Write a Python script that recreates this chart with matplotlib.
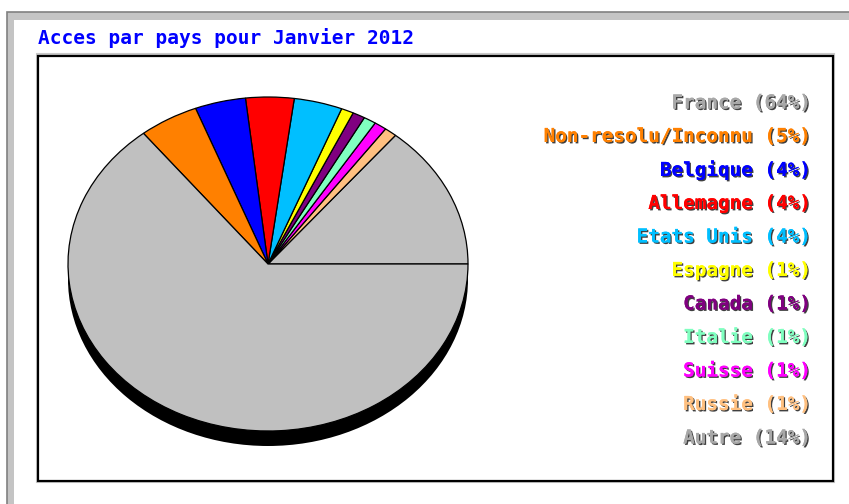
import matplotlib
matplotlib.use("Agg")
import matplotlib.pyplot as plt
import matplotlib.patheffects as pe
from matplotlib.patches import Rectangle, Ellipse

title = "Acces par pays pour Janvier 2012"
countries = ["France", "Non-resolu/Inconnu", "Belgique", "Allemagne", "Etats Unis",
             "Espagne", "Canada", "Italie", "Suisse", "Russie", "Autre"]
shares = [64.3, 4.8, 4.1, 3.9, 3.9, 1.0, 1.0, 1.0, 1.0, 1.0, 14.0]
label_pct = [64, 5, 4, 4, 4, 1, 1, 1, 1, 1, 14]
slice_colors = ["#C0C0C0", "#FF8000", "#0000FF", "#FF0000", "#00BFFF",
                "#FFFF00", "#800080", "#80FFC0", "#FF00FF", "#FFC080", "#C0C0C0"]
text_colors = ["#A8A8A8", "#FF8000", "#0000FF", "#FF0000", "#00BFFF",
               "#FFFF00", "#800080", "#80FFC0", "#FF00FF", "#FFC080", "#A8A8A8"]

W, H = 849, 504
fig = plt.figure(figsize=(W / 100, H / 100), dpi=100)
fig.patch.set_facecolor("white")

# background axes in pixel coordinates
bg = fig.add_axes([0, 0, 1, 1])
bg.set_xlim(0, W)
bg.set_ylim(H, 0)
bg.axis("off")

# outer window-like frame
bg.add_patch(Rectangle((7, 12), W, H, facecolor="#C4C4C4", edgecolor="#808080", lw=1.2))
bg.add_patch(Rectangle((14, 20), W, H, facecolor="white", edgecolor="none"))

# title
bg.text(38, 38, title, color="#0000FF", fontsize=14, family="DejaVu Sans Mono",
        fontweight="bold", ha="left", va="center")

# inner box
bg.add_patch(Rectangle((37, 54), 797, 428, facecolor="none", edgecolor="#C8C8C8", lw=1.5))
bg.add_patch(Rectangle((38.5, 55.5), 794.5, 425.5, facecolor="none", edgecolor="black", lw=1.6))

# pie (elliptical)
cx, cy, rx, ry = 268, 264, 200, 167
m = 1.1
pax = fig.add_axes([(cx - m * rx) / W, (H - cy - m * ry) / H, 2 * m * rx / W, 2 * m * ry / H])
pax.set_facecolor("none")
pax.add_patch(Ellipse((0, -15 / ry), 2, 2, facecolor="black", edgecolor="none", zorder=0))
order = list(range(len(shares)))[::-1]
pax.pie([shares[i] for i in order], colors=[slice_colors[i] for i in order],
        startangle=0, counterclock=True,
        wedgeprops=dict(edgecolor="black", linewidth=0.9))
pax.set_aspect("auto")
pax.set_xlim(-m, m)
pax.set_ylim(-m, m)
pax.axis("off")

# legend labels
y0, dy = 103, 33.5
for i, (name, p) in enumerate(zip(countries, label_pct)):
    bg.text(811, y0 + i * dy, f"{name} ({p}%)", color=text_colors[i], fontsize=13.9,
            family="DejaVu Sans Mono", fontweight="bold", ha="right", va="center",
            path_effects=[pe.withSimplePatchShadow(offset=(1, -1), shadow_rgbFace="black", alpha=0.75),
                          pe.Normal()])

fig.savefig("out.png", dpi=100)
